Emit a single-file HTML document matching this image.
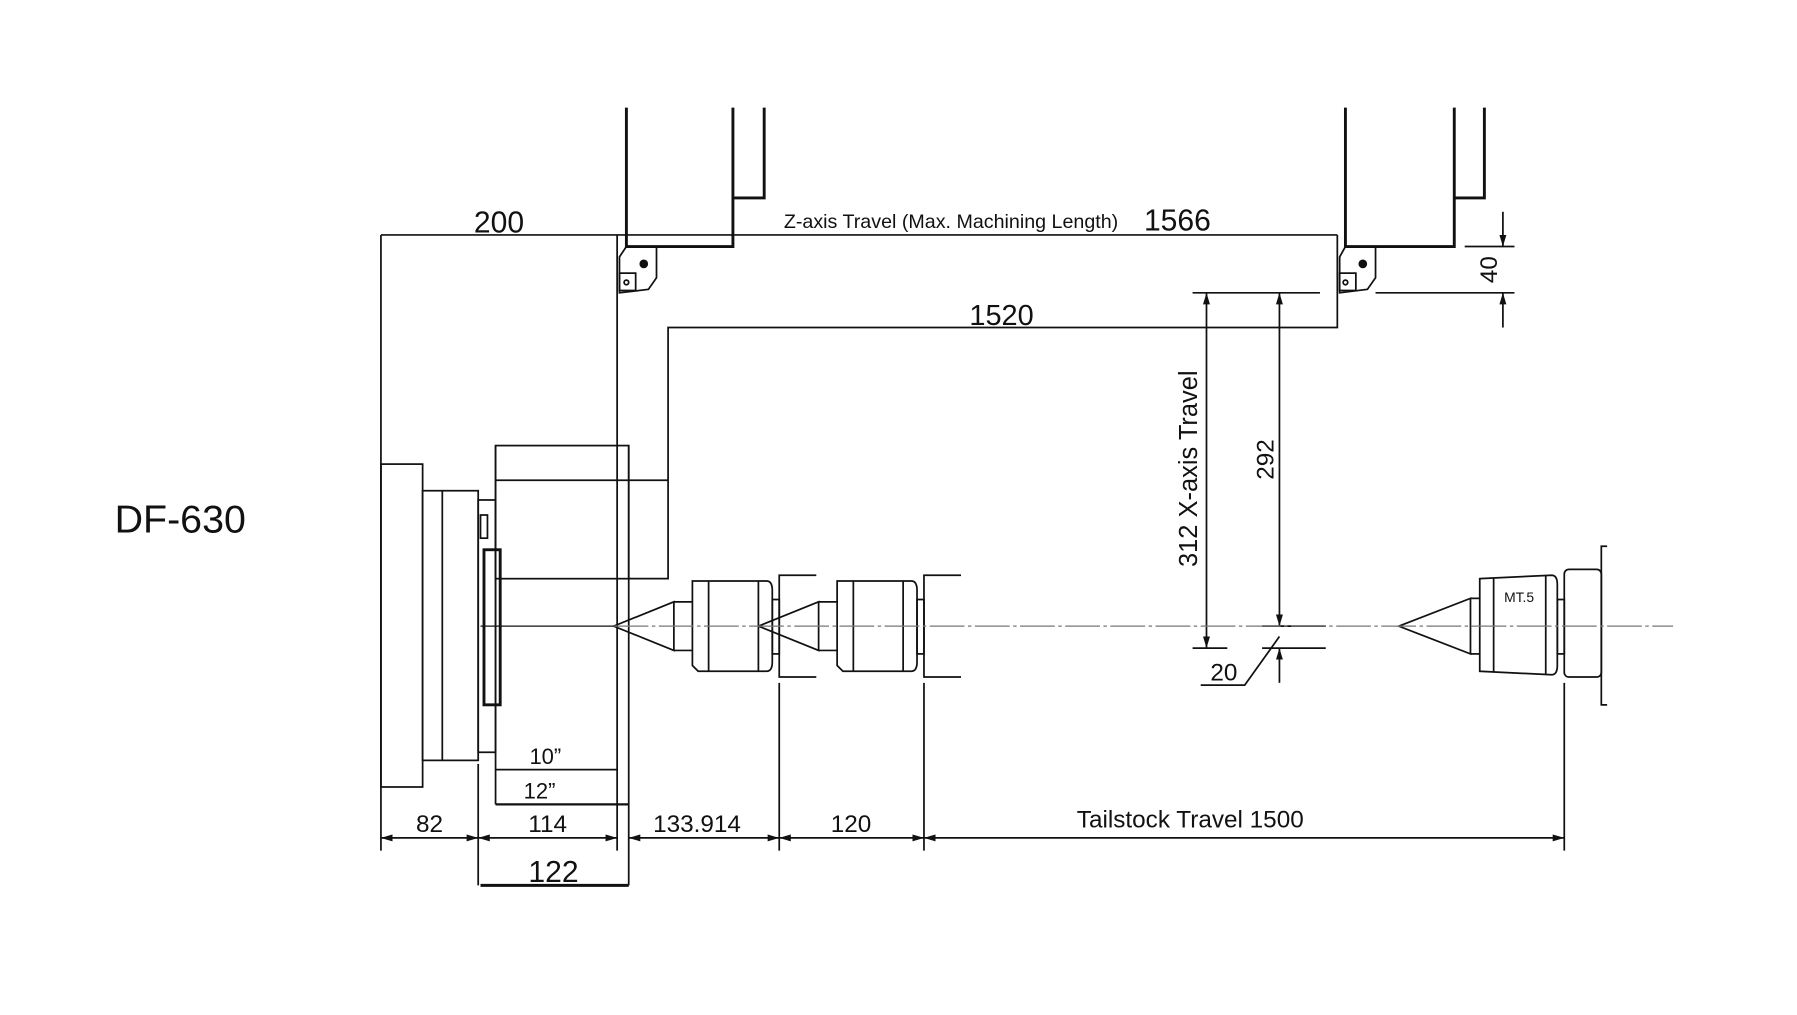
<!DOCTYPE html>
<html><head><meta charset="utf-8"><style>html,body{margin:0;padding:0;background:#fff}svg{display:block}</style></head>
<body>
<svg width="1797" height="1015" viewBox="0 0 1552 877" preserveAspectRatio="none" xmlns="http://www.w3.org/2000/svg">
<defs>
<marker id="a" viewBox="0 0 10 6" refX="10" refY="3" markerWidth="10" markerHeight="6" orient="auto-start-reverse" markerUnits="userSpaceOnUse"><path d="M0,0 L10,3 L0,6 z" fill="#111"/></marker>
</defs>
<rect width="1552" height="877" fill="#fff"/>
<g stroke="#111" fill="none" stroke-width="1.5">
<!-- chuck -->
<rect x="329" y="401" width="36" height="279"/>
<rect x="365" y="424" width="48" height="233"/>
<line x1="382" y1="424" x2="382" y2="657"/>
<rect x="413" y="432" width="15" height="218"/>
<rect x="415" y="445" width="6" height="20"/>
<rect x="418" y="475" width="14" height="134" stroke-width="2.5"/>
<rect x="428" y="385" width="115" height="115"/>
<line x1="428" y1="385" x2="428" y2="695"/>
<line x1="543" y1="385" x2="543" y2="765"/>
<line x1="428" y1="415" x2="577" y2="415"/>
<polyline points="543,500 577,500 577,283 1155,283 1155,203"/>
<line x1="533" y1="203" x2="533" y2="735"/>
<line x1="329" y1="203" x2="1155" y2="203"/>
<line x1="329" y1="203" x2="329" y2="680"/>
<!-- tool left -->
<polyline points="541,93 541,213 633,213 633,93" stroke-width="2.5"/>
<polyline points="660,93 660,171 633,171" stroke-width="2.5"/>
<path d="M541,213 L567,213 L567,240 L560,250 L535,253 L535,222 Z"/>
<rect x="535" y="236" width="14" height="15"/>
<circle cx="556" cy="228" r="3" fill="#111"/><circle cx="541" cy="244" r="2"/>
<!-- tool right -->
<polyline points="1162,93 1162,213 1256,213 1256,93" stroke-width="2.5"/>
<polyline points="1282,93 1282,171 1256,171" stroke-width="2.5"/>
<path d="M1162,213 L1188,213 L1188,240 L1181,250 L1157,253 L1157,222 Z"/>
<rect x="1157" y="236" width="14" height="15"/>
<circle cx="1177" cy="228" r="3" fill="#111"/><circle cx="1162" cy="244" r="2"/>
<line x1="1265" y1="213" x2="1308" y2="213"/>
<line x1="1188" y1="253" x2="1308" y2="253"/>
<line x1="1298" y1="183" x2="1298" y2="213" marker-end="url(#a)"/>
<line x1="1298" y1="283" x2="1298" y2="253" marker-end="url(#a)"/>
<!-- X axis -->
<line x1="1030" y1="253" x2="1140" y2="253"/>
<line x1="1042" y1="253" x2="1042" y2="560" marker-start="url(#a)" marker-end="url(#a)"/>
<line x1="1030" y1="560" x2="1060" y2="560"/>
<line x1="1105" y1="253" x2="1105" y2="541" marker-start="url(#a)" marker-end="url(#a)"/>
<line x1="1090" y1="541" x2="1145" y2="541"/>
<line x1="1090" y1="560" x2="1145" y2="560"/>
<line x1="1105" y1="590" x2="1105" y2="560" marker-end="url(#a)"/>
<polyline points="1037,592 1075,592 1105,550"/>
<!-- centers -->
<path d="M530,541 L582,520 L582,562 Z M598,502 L662,502 Q667,502 667,510 L667,572 Q667,580 662,580 L603,580 L598,575 L598,507 Z"/>
<line x1="582" y1="520" x2="598" y2="520"/><line x1="582" y1="562" x2="598" y2="562"/>
<line x1="612" y1="502" x2="612" y2="580"/><line x1="655" y1="502" x2="655" y2="580"/>
<rect x="667" y="518" width="6" height="47"/>
<polyline points="705,497 673,497 673,585 705,585"/>
<path d="M655,541 L707,520 L707,562 Z M723,502 L787,502 Q792,502 792,510 L792,572 Q792,580 787,580 L728,580 L723,575 L723,507 Z"/>
<line x1="707" y1="520" x2="723" y2="520"/><line x1="707" y1="562" x2="723" y2="562"/>
<line x1="737" y1="502" x2="737" y2="580"/><line x1="780" y1="502" x2="780" y2="580"/>
<rect x="792" y="518" width="6" height="47"/>
<polyline points="830,497 798,497 798,585 830,585"/>
<!-- tailstock -->
<path d="M1208,541 L1270,517 L1270,565 Z M1278,500 L1340,497 Q1345,497 1345,505 L1345,575 Q1345,583 1340,583 L1278,580 Z"/>
<line x1="1270" y1="517" x2="1278" y2="517"/><line x1="1270" y1="565" x2="1278" y2="565"/>
<line x1="1290" y1="499" x2="1290" y2="581"/><line x1="1335" y1="497" x2="1335" y2="583"/>
<rect x="1345" y="518" width="6" height="47"/>
<rect x="1351" y="492" width="32" height="93" rx="4"/>
<polyline points="1388,472 1383,472 1383,609 1388,609"/>
<!-- dimension -->
<line x1="329" y1="680" x2="329" y2="735"/>
<line x1="413" y1="660" x2="413" y2="765"/>
<line x1="673" y1="590" x2="673" y2="735"/>
<line x1="798" y1="590" x2="798" y2="735"/>
<line x1="1351" y1="590" x2="1351" y2="735"/>
<line x1="329" y1="724" x2="413" y2="724" marker-start="url(#a)" marker-end="url(#a)"/>
<line x1="413" y1="724" x2="533" y2="724" marker-start="url(#a)" marker-end="url(#a)"/>
<line x1="543" y1="724" x2="673" y2="724" marker-start="url(#a)" marker-end="url(#a)"/>
<line x1="673" y1="724" x2="798" y2="724" marker-start="url(#a)" marker-end="url(#a)"/>
<line x1="798" y1="724" x2="1351" y2="724" marker-start="url(#a)" marker-end="url(#a)"/>
<line x1="415" y1="765" x2="543" y2="765" stroke-width="2.5"/>
<line x1="428" y1="665" x2="533" y2="665"/>
<line x1="428" y1="695" x2="543" y2="695" stroke-width="2"/>
</g>
<line x1="530" y1="541" x2="1445" y2="541" stroke="#777" stroke-width="1" stroke-dasharray="30,3,3,3"/>
<line x1="415" y1="541" x2="530" y2="541" stroke="#111" stroke-width="1"/>
<g font-family="Liberation Sans, sans-serif" fill="#111">
<text x="99" y="460" font-size="34">DF-630</text>
<text x="431" y="201" font-size="26" text-anchor="middle">200</text>
<text x="677" y="197" font-size="17">Z-axis Travel (Max. Machining Length)</text>
<text x="988" y="199" font-size="26">1566</text>
<text x="865" y="281" font-size="25" text-anchor="middle">1520</text>
<text transform="translate(1034,405) rotate(-90)" font-size="22" text-anchor="middle">312  X-axis Travel</text>
<text transform="translate(1100,397) rotate(-90)" font-size="21" text-anchor="middle">292</text>
<text transform="translate(1293,233) rotate(-90)" font-size="21" text-anchor="middle">40</text>
<text x="1057" y="588" font-size="21" text-anchor="middle">20</text>
<text x="1312" y="520" font-size="12" text-anchor="middle">MT.5</text>
<text x="371" y="719" font-size="21" text-anchor="middle">82</text>
<text x="473" y="719" font-size="21" text-anchor="middle">114</text>
<text x="602" y="719" font-size="21" text-anchor="middle">133.914</text>
<text x="735" y="719" font-size="21" text-anchor="middle">120</text>
<text x="1028" y="715" font-size="21" text-anchor="middle">Tailstock  Travel 1500</text>
<text x="478" y="762" font-size="26" text-anchor="middle">122</text>
<text x="471" y="660" font-size="19" text-anchor="middle">10”</text>
<text x="466" y="690" font-size="19" text-anchor="middle">12”</text>
</g>
</svg>
</body></html>
